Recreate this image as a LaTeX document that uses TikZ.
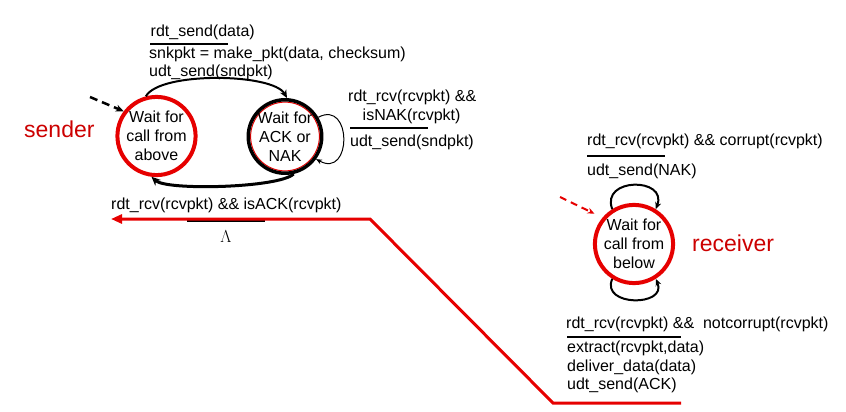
\documentclass[tikz,border=0pt]{standalone}
\usepackage{fontspec}
\setmainfont{Liberation Sans}
\usetikzlibrary{arrows.meta}
\definecolor{lnred}{RGB}{230,0,0}
\definecolor{txtred}{RGB}{204,0,0}
\begin{document}
\begin{tikzpicture}[x=1pt,y=-1pt,
  lbl/.style={anchor=base west, inner sep=0pt, font=\fontsize{16}{19}\selectfont},
  state/.style={circle, inner sep=0pt, align=center, font=\fontsize{16}{19}\selectfont, minimum size=#1},
  big/.style={anchor=base west, inner sep=0pt, text=txtred, font=\fontsize{23}{23}\selectfont},
  rulebar/.style={line width=2pt},
  tipS/.style={-{Stealth[length=8pt,width=7pt]}},
  tipM/.style={-{Stealth[length=7pt,width=6pt]}}]
\useasboundingbox (0,0) rectangle (846,412);

% sender states
\draw[lnred, line width=1pt] (285,136.5) circle[radius=34.4pt];
\node[state=75pt, draw=lnred, line width=4pt] (s1) at (156.5,136) {Wait for\\call from\\above};
\node[state=73pt, draw=black, line width=3.5pt] (s2) at (285,136.5) {Wait for\\ACK or\\NAK};

% receiver state
\node[state=74pt, draw=lnred, line width=4pt] (r) at (634,244) {Wait for\\call from\\below};

% big labels
\node[big] (snd) at (24,137.5) {sender};
\node[big] (rcv) at (692,251) {receiver};

% top transition label
\node[lbl] (t1) at (150.5,37) {rdt\_send(data)};
\draw[rulebar] (150,44) -- (228,44);
\node[lbl] (t2) at (149,59) {snkpkt = make\_pkt(data, checksum)};
\node[lbl] (t3) at (149,77) {udt\_send(sndpkt)};

% NAK self-loop label
\node[lbl] (n1) at (348,102) {rdt\_rcv(rcvpkt) \&\&};
\node[lbl] (n2) at (362.5,121) {isNAK(rcvpkt)};
\draw[rulebar] (350,128) -- (428,128);
\node[lbl] (n3) at (350,146) {udt\_send(sndpkt)};

% ACK label
\node[lbl] (a1) at (111,209) {rdt\_rcv(rcvpkt) \&\& isACK(rcvpkt)};
\draw[rulebar] (187,221) -- (265,221);
\node[inner sep=0pt, font=\fontsize{16}{16}\selectfont] (lam) at (226,237) {$\Lambda$};

% receiver labels
\node[lbl] (c1) at (587,145) {rdt\_rcv(rcvpkt) \&\& corrupt(rcvpkt)};
\draw[rulebar] (587,156) -- (665,156);
\node[lbl] (c2) at (587,175) {udt\_send(NAK)};
\node[lbl] (d1) at (566,328) {rdt\_rcv(rcvpkt) \&\&\ \ notcorrupt(rcvpkt)};
\draw[rulebar] (567,337) -- (681,337);
\node[lbl] (d2) at (567,352) {extract(rcvpkt,data)};
\node[lbl] (d3) at (567,371) {deliver\_data(data)};
\node[lbl] (d4) at (567,389.5) {udt\_send(ACK)};

% initial arrows
\coordinate (si) at (90,97);
\draw[line width=2.5pt, dash pattern=on 8pt off 5pt, tipS] (si) -- (s1.143);
\coordinate (ri) at (560,197);
\draw[lnred, line width=2pt, dash pattern=on 7pt off 5pt, tipM, shorten >=9pt] (ri) -- (r.140);

% sender transitions
\draw[line width=2pt, tipS] (s1.105) .. controls +(14,-25) and +(-14,-25) .. (s2.87);
\draw[line width=1pt, -{Stealth[length=6pt,width=5pt]}] (s2.30) .. controls +(34,-18) and +(36,20) .. (s2.-36);
\draw[line width=3pt, -{Stealth[length=9pt,width=8pt]}] (s2.-77) .. controls +(-15,14) and +(15,14) .. (s1.-97);

% big red arrow
\coordinate (p0) at (681,403);
\coordinate (p1) at (553,403);
\coordinate (p2) at (370,219);
\coordinate (p3) at (111,219);
\draw[lnred, line width=3pt, -{Triangle[length=11pt,width=9pt]}] (p0) -- (p1) -- (p2) -- (p3);

% receiver loops
\draw[line width=2pt, tipM] (r.122) .. controls +(-12,-32) and +(12,-32) .. (r.58);
\draw[line width=2pt, tipM] (r.-122) .. controls +(-12,28) and +(12,28) .. (r.-58);
\end{tikzpicture}
\end{document}
